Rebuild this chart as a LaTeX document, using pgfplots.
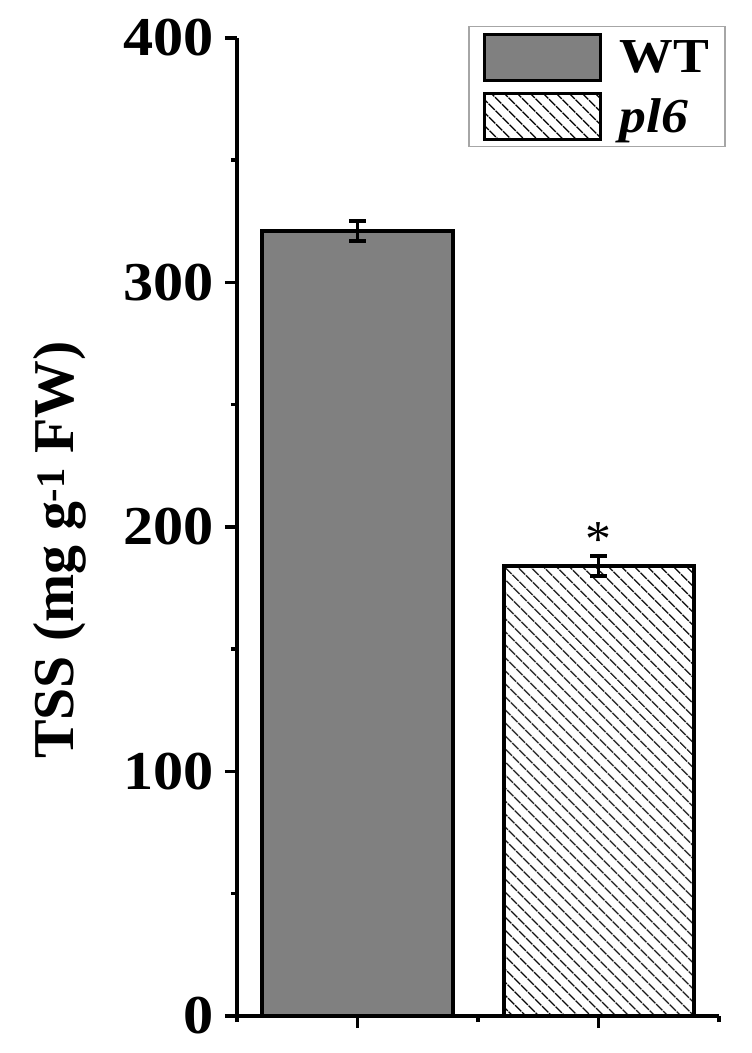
\documentclass[border=0pt]{standalone}
\usepackage{fontspec}
\setmainfont{Liberation Serif}
\usepackage{graphicx}
\usepackage{pgfplots}
\pgfplotsset{compat=1.18}
\usetikzlibrary{patterns.meta}
\definecolor{wtgray}{RGB}{128,128,128}

\begin{document}
\begin{tikzpicture}
\begin{axis}[
  scale only axis,
  width=482bp, height=978bp,
  xmin=0.5, xmax=2.5, ymin=0, ymax=400,
  axis lines=left,
  axis line style={-, line width=3.5bp},
  ybar, bar width=190bp, bar shift=0pt,
  xtick={1,2}, xticklabels={},
  minor xtick={0.5,1.5,2.5},
  ytick={0,100,...,400},
  minor ytick={50,150,250,350},
  tick align=outside,
  major tick length=12bp, minor tick length=6bp,
  tick style={black, line width=3.5bp},
  /pgf/number format/assume math mode=true,
  yticklabel={\scalebox{1.1}[1]{\pgfmathprintnumber{\tick}}},
  yticklabel style={font=\fontsize{55}{60}\selectfont\bfseries, xshift=-8bp},
  ylabel={TSS (mg g\textsuperscript{-1} FW)},
  ylabel style={at={(axis description cs:-0.340,0.4765)}, anchor=base,
    font=\fontsize{58}{62}\selectfont\bfseries},
  legend style={at={(1.0145,1.0123)}, anchor=north east, draw=gray!70,
    line width=1.5bp, font=\fontsize{49}{52}\selectfont\bfseries,
    inner xsep=14bp, inner ysep=6bp, row sep=10bp},
  legend cell align=left,
  legend image code/.code={
    \draw[#1, line width=3bp] (0bp,-23bp) rectangle (116bp,23bp);
    \path (131bp,0bp);},
]
\coordinate (O) at (rel axis cs:0,0);
\addplot[fill=wtgray, draw=black, line width=4bp,
  error bars/.cd, y dir=both, y explicit,
  error bar style={line width=3.5bp},
  error mark options={rotate=90, mark size=8.5bp, line width=4bp}]
  coordinates {(1,321) +- (0,4)};
\addlegendentry{\scalebox{1.1}[1]{WT}\hspace{8bp}}
\addplot[fill=white, draw=black, line width=4bp,
  postaction={pattern={Lines[angle=-45,distance=10bp,line width=1.6bp]}},
  error bars/.cd, y dir=both, y explicit,
  error bar style={line width=3.5bp},
  error mark options={rotate=90, mark size=8.5bp, line width=4bp}]
  coordinates {(2,184) +- (0,4)};
\addlegendentry{\scalebox{1.1}[1]{\textit{pl6}}\hspace{8bp}}
\node[anchor=base, font=\fontsize{52}{56}\selectfont] at (axis cs:2,188) {*};
\end{axis}
\pgfresetboundingbox
\path[use as bounding box] (O) ++(-237bp,-37bp) rectangle ++(752bp,1053bp);
\end{tikzpicture}
\end{document}
